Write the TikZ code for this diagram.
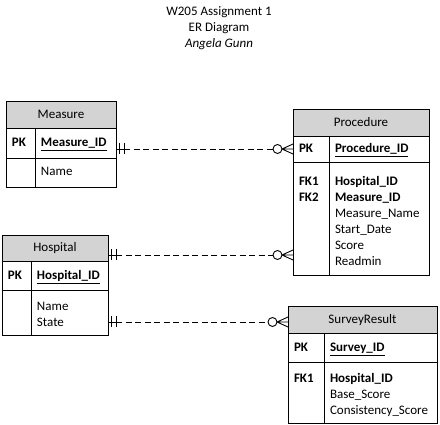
\documentclass[tikz,border=0pt]{standalone}
\usepackage{fontspec}
\setmainfont{Carlito}
\usetikzlibrary{positioning,calc}

\definecolor{headgray}{RGB}{211,211,211}
\newcommand{\erfont}{\fontsize{13pt}{16pt}\selectfont}

\tikzset{
  cell/.style={rectangle, draw, line width=0.9pt, anchor=north west, outer sep=0pt,
               inner xsep=6pt, inner ysep=0pt, align=left, font=\erfont},
  row/.style 2 args={text height=#1, text depth=#2},
  head/.style={cell, fill=headgray, align=center},
  keycell/.style={cell, font=\erfont\bfseries},
  rel/.style={line width=0.9pt, dash pattern=on 6pt off 3.5pt},
}

% one and only one  ->  zero or many
\newcommand{\erlink}[2]{%
  \draw[line width=0.9pt] (#1) -- ([xshift=8pt]#1);
  \draw[line width=0.9pt] ([xshift=3.5pt,yshift=5.5pt]#1) -- ([xshift=3.5pt,yshift=-5.5pt]#1);
  \draw[line width=0.9pt] ([xshift=8pt,yshift=5.5pt]#1) -- ([xshift=8pt,yshift=-5.5pt]#1);
  \draw[rel] ([xshift=8pt]#1) -- ([xshift=-20pt]#2);
  \draw[line width=0.9pt] ([xshift=-15.5pt]#2) circle (4.5pt);
  \draw[line width=0.9pt] ([xshift=-11pt]#2) -- ([yshift=5pt]#2)
        ([xshift=-11pt]#2) -- (#2)
        ([xshift=-11pt]#2) -- ([yshift=-5pt]#2);
}

\begin{document}
\begin{tikzpicture}[x=1pt,y=-1pt]
\useasboundingbox (0,0) rectangle (440,425);

\node[align=center, font=\erfont] (title) at (219,28) {W205 Assignment 1\\ER Diagram\\\textit{Angela Gunn}};

% Measure
\node[head, text width=98pt, row={18pt}{9pt}] (meahead) at (6,101) {Measure};
\node[keycell, text width=17pt, row={19pt}{11pt}] (meapkk) at (meahead.south west) {PK};
\node[cell, text width=69pt, row={19pt}{11pt}] (meapkf) at (meapkk.north east) {\underline{\textbf{Measure\_ID}}};
\node[keycell, text width=17pt, row={18pt}{11pt}] (meabodyk) at (meapkk.south west) {};
\node[cell, text width=69pt, row={18pt}{11pt}] (meabodyf) at (meabodyk.north east) {Name};

% Procedure
\node[head, text width=124pt, row={18pt}{9pt}] (prochead) at (293,109) {Procedure};
\node[keycell, text width=24pt, row={17pt}{9pt}] (procpkk) at (prochead.south west) {PK};
\node[cell, text width=88pt, row={17pt}{9pt}] (procpkf) at (procpkk.north east) {\underline{\textbf{Procedure\_ID}}};
\node[keycell, text width=24pt, row={24pt}{89pt}] (procbodyk) at (procpkk.south west) {FK1\\FK2};
\node[cell, text width=88pt, row={24pt}{89pt}] (procbodyf) at (procbodyk.north east)
  {\textbf{Hospital\_ID}\\\textbf{Measure\_ID}\\Measure\_Name\\Start\_Date\\Score\\Readmin};

% Hospital
\node[head, text width=94pt, row={17pt}{9pt}] (hosphead) at (2,235) {Hospital};
\node[keycell, text width=17pt, row={19pt}{10pt}] (hosppkk) at (hosphead.south west) {PK};
\node[cell, text width=65pt, row={19pt}{10pt}] (hosppkf) at (hosppkk.north east) {\underline{\textbf{Hospital\_ID}}};
\node[keycell, text width=17pt, row={21pt}{24pt}] (hospbodyk) at (hosppkk.south west) {};
\node[cell, text width=65pt, row={21pt}{24pt}] (hospbodyf) at (hospbodyk.north east) {Name\\State};

% SurveyResult
\node[head, text width=137pt, row={18pt}{9pt}] (survhead) at (288,306) {SurveyResult};
\node[keycell, text width=24pt, row={19pt}{10pt}] (survpkk) at (survhead.south west) {PK};
\node[cell, text width=101pt, row={19pt}{10pt}] (survpkf) at (survpkk.north east) {\underline{\textbf{Survey\_ID}}};
\node[keycell, text width=24pt, row={21pt}{40pt}] (survbodyk) at (survpkk.south west) {FK1};
\node[cell, text width=101pt, row={21pt}{40pt}] (survbodyf) at (survbodyk.north east)
  {\textbf{Hospital\_ID}\\Base\_Score\\Consistency\_Score};

% relationships
\coordinate (l1s) at (procpkk.west -| meapkf.east);
\erlink{l1s}{procpkk.west}
\coordinate (l2s) at ([yshift=-7pt]hosphead.east);
\coordinate (l2e) at (l2s -| procbodyk.west);
\erlink{l2s}{l2e}
\coordinate (l3e) at ([yshift=-2.5pt]survhead.west);
\coordinate (l3s) at (l3e -| hospbodyf.east);
\erlink{l3s}{l3e}
\end{tikzpicture}
\end{document}
